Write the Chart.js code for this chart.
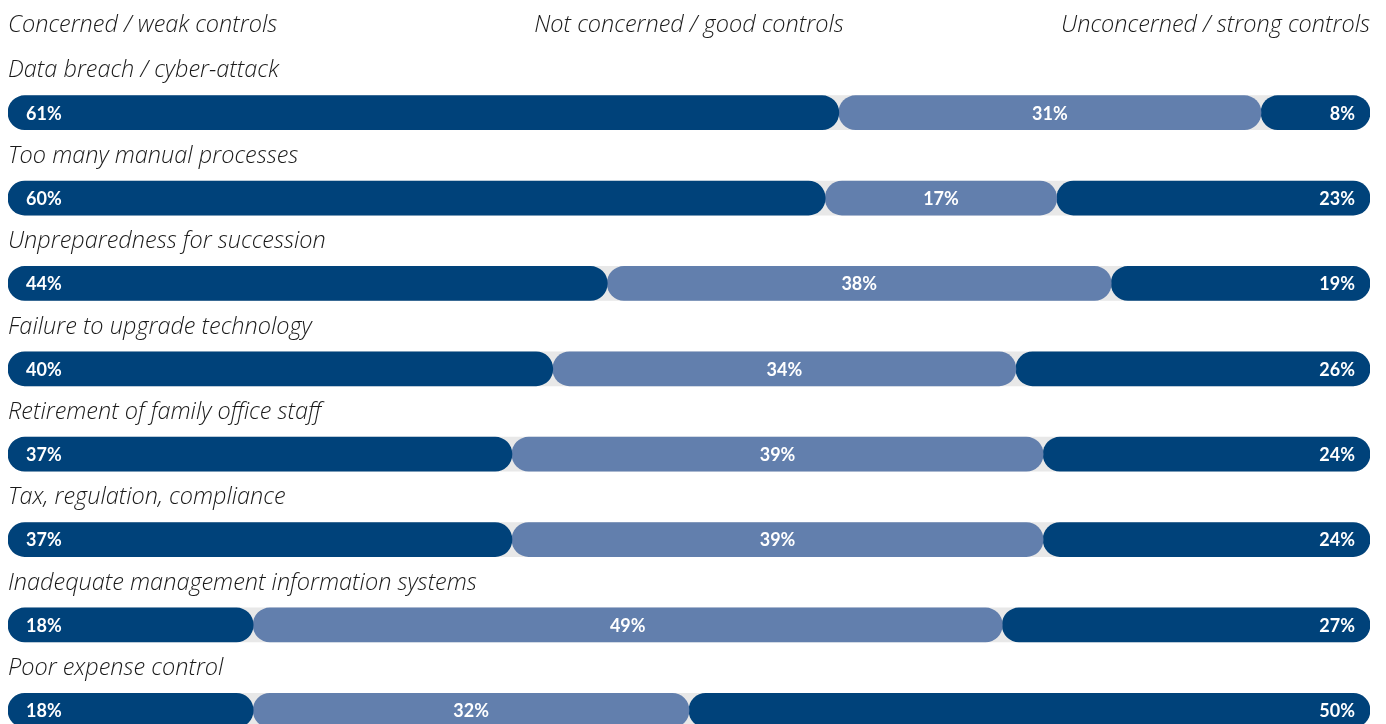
<!DOCTYPE html>
<html>
<head>
<meta charset="utf-8">
<title>Concerns</title>
<script src="https://cdn.jsdelivr.net/npm/chart.js@4.4.0/dist/chart.umd.min.js"></script>
<style>
  html, body { margin: 0; padding: 0; background: #fff; overflow: hidden; }
  #wrap { width: 1386px; height: 760px; position: relative; }
</style>
</head>
<body>
<div id="wrap"><canvas id="my-chart"></canvas></div>
<script>
'use strict';

//***********Data***********
let risks = [
  'Data breach / cyber-attack',
  'Too many manual processes',
  'Unpreparedness for succession',
  'Failure to upgrade technology',
  'Retirement of family office staff',
  'Tax, regulation, compliance',
  'Inadequate management information systems',
  'Poor expense control'
];
let headers = ['Concerned / weak controls', 'Not concerned / good controls', 'Unconcerned / strong controls'];
let concerned = [61, 60, 44, 40, 37, 37, 18, 18];
let notConcerned = [31, 17, 38, 34, 39, 39, 49, 32];
let unconcerned = [8, 23, 19, 26, 24, 24, 27, 50];

let darkBlue = '#00427a';
let lightBlue = '#627fad';
let track = '#e8e8e8';
let textFont = 'italic 300 23.5px "Open Sans", Lato, sans-serif';

//***********Build bar ranges***********
// first segment starts at 0, last one is anchored at 100, middle fills the gap
let firstBars = [];
let middleBars = [];
let lastBars = [];
let trackBars = [];
for (let i = 0; i < risks.length; i++) {
  firstBars.push([0, concerned[i]]);
  middleBars.push([concerned[i], 100 - unconcerned[i]]);
  lastBars.push([100 - unconcerned[i], 100]);
  trackBars.push([0, 100]);
}

//***********Plugin: texts***********
let textPlugin = {
  id: 'texts',
  afterDatasetsDraw(chart) {
    let ctx = chart.ctx;
    let x = chart.scales.x;
    let y = chart.scales.y;
    ctx.save();
    ctx.fillStyle = '#1a1a1a';
    ctx.font = textFont;
    ctx.textBaseline = 'middle';

    // headers
    ctx.textAlign = 'left';
    ctx.fillText(headers[0], x.getPixelForValue(0), 25);
    ctx.textAlign = 'center';
    ctx.fillText(headers[1], x.getPixelForValue(50), 25);
    ctx.textAlign = 'right';
    ctx.fillText(headers[2], x.getPixelForValue(100), 25);

    // category names above bars
    ctx.textAlign = 'left';
    for (let i = 0; i < risks.length; i++) {
      ctx.fillText(risks[i], x.getPixelForValue(0), y.getPixelForValue(i) - 42);
    }

    // value labels
    ctx.fillStyle = '#fff';
    ctx.font = 'bold 18px Lato, "Open Sans", sans-serif';
    for (let i = 0; i < risks.length; i++) {
      let cy = y.getPixelForValue(i) + 1;
      ctx.textAlign = 'left';
      ctx.fillText(concerned[i] + '%', x.getPixelForValue(0) + 18, cy);
      ctx.textAlign = 'center';
      let mid = (x.getPixelForValue(middleBars[i][0]) + x.getPixelForValue(middleBars[i][1])) / 2;
      ctx.fillText(notConcerned[i] + '%', mid, cy);
      ctx.textAlign = 'right';
      ctx.fillText(unconcerned[i] + '%', x.getPixelForValue(100) - 15, cy);
    }
    ctx.restore();
  }
};

//***********Chart***********
let ctx = document.getElementById('my-chart').getContext('2d');
function barSet(data, color, order) {
  return {
    data: data,
    backgroundColor: color,
    borderWidth: 0,
    borderRadius: 17,
    borderSkipped: false,
    barThickness: 34,
    grouped: false,
    order: order
  };
}

new Chart(ctx, {
  type: 'bar',
  data: {
    labels: risks,
    datasets: [
      barSet(firstBars, darkBlue, 0),
      barSet(middleBars, lightBlue, 0),
      barSet(lastBars, darkBlue, 0),
      barSet(trackBars, track, 5)
    ]
  },
  options: {
    indexAxis: 'y',
    responsive: true,
    maintainAspectRatio: false,
    animation: false,
    layout: { padding: { top: 70, bottom: 7, left: 8, right: 16 } },
    plugins: { legend: { display: false }, tooltip: { enabled: false } },
    scales: {
      x: { display: false, min: 0, max: 100 },
      y: { display: false }
    }
  },
  plugins: [textPlugin]
});
</script>
</body>
</html>
